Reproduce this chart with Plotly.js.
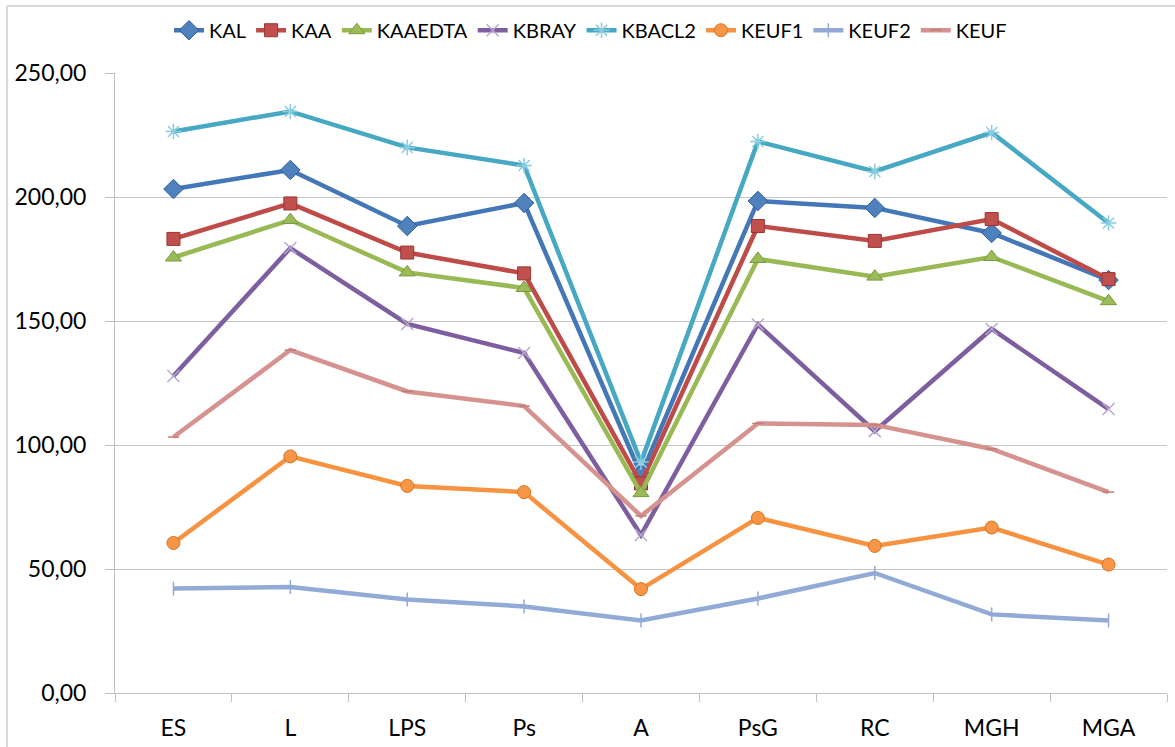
<!DOCTYPE html>
<html>
<head>
<meta charset="utf-8">
<script src="https://cdn.plot.ly/plotly-3.0.1.min.js"></script>
<style>
html,body{margin:0;padding:0;background:#fff;}
#chart{width:1175px;height:747px;}
</style>
</head>
<body>
<div id="chart"></div>
<script>
const categories = ["ES","L","LPS","Ps","A","PsG","RC","MGH","MGA"];
const seriesNames = ["KAL","KAA","KAAEDTA","KBRAY","KBACL2","KEUF1","KEUF2","KEUF"];
const KAL     = [203.2, 210.9, 188.3, 197.6, 88.0, 198.4, 195.6, 185.5, 166.5];
const KAA     = [183.1, 197.4, 177.6, 169.2, 84.5, 188.3, 182.3, 191.1, 166.9];
const KAAEDTA = [175.6, 190.7, 169.6, 163.3, 80.6, 175.0, 167.9, 175.8, 158.0];
const KBRAY   = [127.8, 179.4, 148.8, 137.1, 63.7, 148.6, 105.6, 146.8, 114.5];
const KBACL2  = [226.4, 234.5, 220.0, 212.7, 93.1, 222.4, 210.3, 226.0, 189.5];
const KEUF1   = [60.5, 95.4, 83.5, 81.0, 41.9, 70.6, 59.3, 66.7, 51.8];
const KEUF2   = [42.1, 42.7, 37.7, 34.9, 29.2, 38.1, 48.4, 31.7, 29.2];
const KEUF    = [103.2, 138.3, 121.6, 115.7, 71.4, 108.7, 108.1, 98.4, 81.0];
const yTicks  = [0, 50, 100, 150, 200, 250];

const values = [KAL, KAA, KAAEDTA, KBRAY, KBACL2, KEUF1, KEUF2, KEUF];
const styles = [
  {line:"#4477B8", mcolor:"#4F81BD", mline:"#2F5F9E", symbol:"diamond", size:15},
  {line:"#BE4B48", mcolor:"#C0504D", mline:"#9C3532", symbol:"square", size:13},
  {line:"#98B954", mcolor:"#9BBB59", mline:"#7A9A3B", symbol:"triangle-up", size:14},
  {line:"#7D5FA0", mcolor:"#B8A8D0", mline:"#B8A8D0", symbol:"x-thin", size:12},
  {line:"#46A8C2", mcolor:"#8ACDE0", mline:"#8ACDE0", symbol:"asterisk", size:13},
  {line:"#F69240", mcolor:"#F79646", mline:"#D9741F", symbol:"circle", size:13},
  {line:"#91ABD6", mcolor:"#91ABD6", mline:"#91ABD6", symbol:"line-ns", size:10},
  {line:"#D6928F", mcolor:"#D6928F", mline:"#C07C79", symbol:"line-ew", size:8}
];

const traces = seriesNames.map((n, i) => ({
  type: "scatter",
  mode: "lines+markers",
  name: n,
  x: categories,
  y: values[i],
  line: {color: styles[i].line, width: 4.5},
  marker: {symbol: styles[i].symbol, size: styles[i].size, color: styles[i].mcolor,
           line: {color: styles[i].mline, width: (styles[i].symbol.startsWith("line") || styles[i].symbol==="x-thin" || styles[i].symbol==="asterisk") ? 1.5 : 1}}
}));

const layout = {
  width: 1175, height: 747,
  paper_bgcolor: "#ffffff", plot_bgcolor: "#ffffff",
  separators: ", ",
  font: {family: "Lato, 'Open Sans', sans-serif", color: "#000000", size: 22},
  margin: {l: 115, r: 8, t: 73, b: 54},
  showlegend: true,
  legend: {orientation: "h", x: 0.452, xanchor: "center", y: 1.069, yanchor: "middle",
           font: {size: 20, color: "#000"}, itemwidth: 30, tracegroupgap: 0, bgcolor: "rgba(0,0,0,0)"},
  xaxis: {
    type: "category", range: [-0.5, 8.5],
    showgrid: false, showline: true, linecolor: "#BFBFBF", linewidth: 1,
    ticks: "outside", tickson: "boundaries", ticklen: 8, tickcolor: "#BFBFBF",
    ticklabelstandoff: 14,
    tickfont: {size: 23, color: "#000"}, zeroline: false, fixedrange: true
  },
  yaxis: {
    range: [0, 250], tickvals: yTicks, tickformat: ".2f",
    showgrid: true, gridcolor: "#C6C6C6", gridwidth: 1,
    showline: true, linecolor: "#BFBFBF", linewidth: 1,
    ticks: "outside", ticklen: 9, tickcolor: "#BFBFBF",
    ticklabelstandoff: 14,
    tickfont: {size: 23, color: "#000"}, zeroline: false, fixedrange: true
  },
  shapes: [
    {type: "line", xref: "paper", yref: "paper", x0: -0.1027, x1: -0.1027, y0: -0.2, y1: 1.108,
     line: {color: "#D9D9D9", width: 2}},
    {type: "line", xref: "paper", yref: "paper", x0: -0.1027, x1: 1.1, y0: 1.108, y1: 1.108,
     line: {color: "#D9D9D9", width: 2}}
  ]
};

Plotly.newPlot("chart", traces, layout, {displayModeBar: false, staticPlot: true});
</script>
</body>
</html>
